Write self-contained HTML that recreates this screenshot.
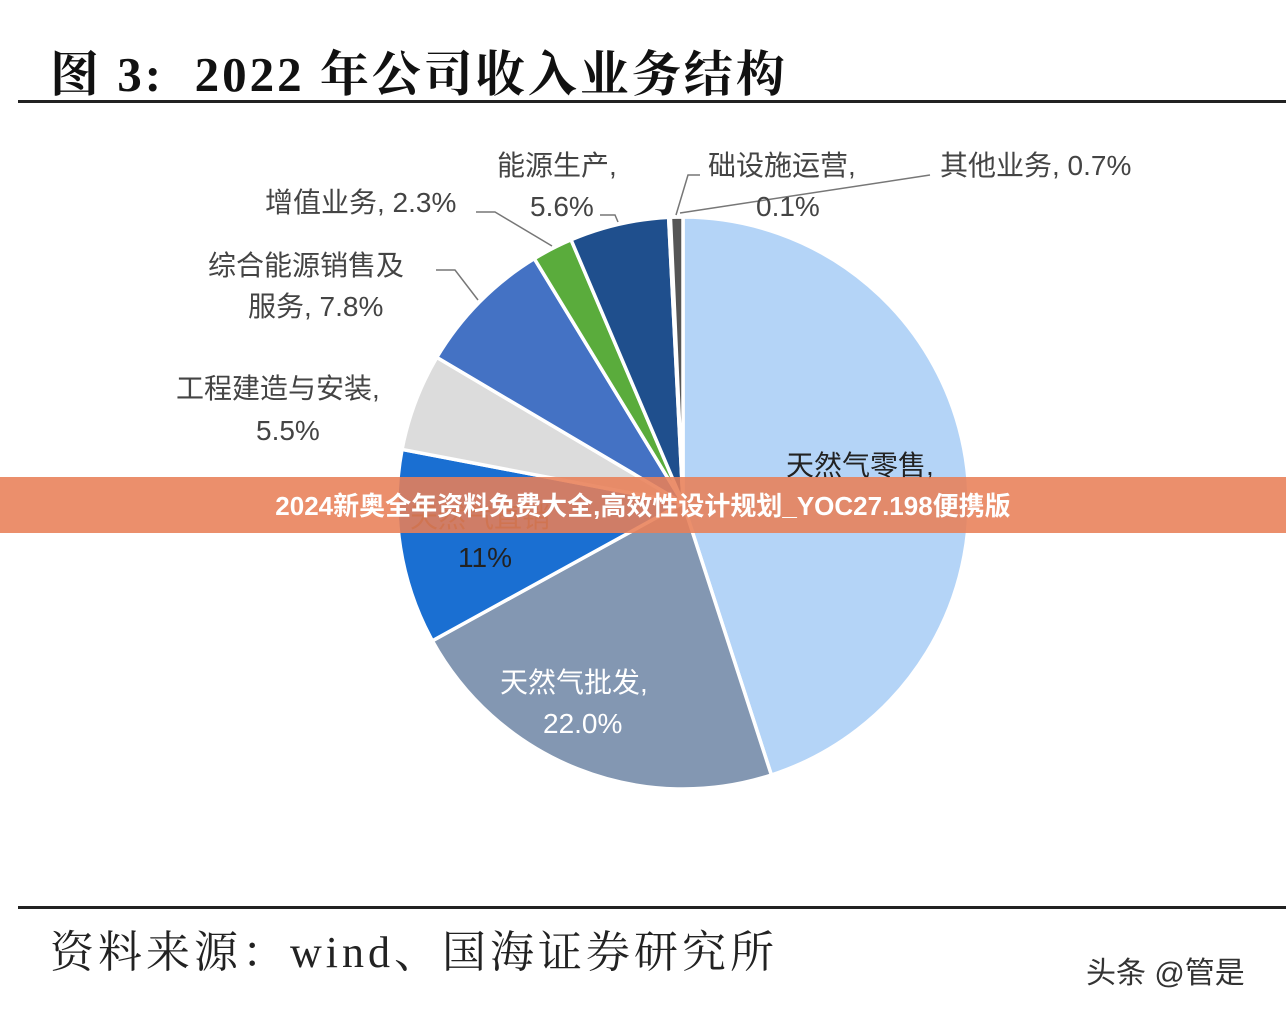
<!DOCTYPE html>
<html><head><meta charset="utf-8"><style>
html,body{margin:0;padding:0;background:#fff;}
body{width:1286px;height:1010px;position:relative;overflow:hidden;font-family:"Liberation Sans","Noto Sans CJK SC",sans-serif;}
.t{position:absolute;white-space:nowrap;}
</style></head><body>
<div class="t" style="left:50px;top:36px;font-family:'Liberation Serif','Noto Serif CJK SC',serif;font-weight:bold;font-size:49px;letter-spacing:3px;color:#111;">图 3:&nbsp; 2022 年公司收入业务结构</div>
<div style="position:absolute;left:18px;top:100px;width:1268px;height:3px;background:#222"></div>
<div style="position:absolute;left:18px;top:906px;width:1268px;height:3px;background:#222"></div>
<div class="t" style="left:50px;top:916px;font-family:'Liberation Serif','Noto Serif CJK SC',serif;font-size:44px;letter-spacing:4px;color:#222;">资料来源：wind、国海证券研究所</div>
<div class="t" style="left:1086px;top:948px;font-size:30px;color:#333;">头条 @管是</div>
<svg id="s" width="1286" height="1010" style="position:absolute;left:0;top:0" font-family="Liberation Sans, Noto Sans CJK SC, sans-serif" font-size="28" fill="#444">
<g id="pie"></g>
<g stroke="#777" stroke-width="1.5" fill="none">
<polyline points="476,212 495,212 552,246"/>
<polyline points="436,270 455,270 478,300"/>
<polyline points="600,215 615,215 618,222"/>
<polyline points="700,175 688,175 676,215"/>
<polyline points="930,175 680,213"/>
</g>
<text x="497" y="175">能源生产,</text>
<text x="530" y="216">5.6%</text>
<text x="708" y="175">础设施运营,</text>
<text x="756" y="216">0.1%</text>
<text x="940" y="175">其他业务, 0.7%</text>
<text x="265" y="212">增值业务, 2.3%</text>
<text x="208" y="275">综合能源销售及</text>
<text x="248" y="316">服务, 7.8%</text>
<text x="176" y="398">工程建造与安装,</text>
<text x="256" y="440">5.5%</text>
<text x="786" y="475" fill="#222">天然气零售,</text>
<text x="410" y="527" fill="#222">天然气直销</text>
<text x="458" y="567" fill="#222">11%</text>
<text x="500" y="692" fill="#fff">天然气批发,</text>
<text x="543" y="733" fill="#fff">22.0%</text>
</svg>
<div style="position:absolute;left:0;top:477px;width:1286px;height:56px;background:rgba(232,128,88,0.88);"></div>
<div class="t" style="left:0;top:477px;width:1286px;height:56px;line-height:58px;text-align:center;color:#fff;font-weight:bold;font-size:26px;">2024新奥全年资料免费大全,高效性设计规划_YOC27.198便携版</div>
<script>
var cx=683,cy=503,r=286;
var d=[[45.0,"#b4d4f7"],[22.0,"#8397b2"],[11,"#1a6fd2"],[5.5,"#dcdcdc"],[7.8,"#4472c4"],[2.3,"#5aac3c"],[5.6,"#1f4f8d"],[0.1,"#9aa"],[0.7,"#555"]];
var a=0,h="";
function p(t){t=t*Math.PI/180;return [cx+r*Math.sin(t),cy-r*Math.cos(t)];}
d.forEach(function(s){var b=a+s[0]*3.6;var p1=p(a),p2=p(b);
h+='<path d="M'+cx+','+cy+' L'+p1[0]+','+p1[1]+' A'+r+','+r+' 0 '+(b-a>180?1:0)+' 1 '+p2[0]+','+p2[1]+' Z" fill="'+s[1]+'" stroke="#fff" stroke-width="3.5"/>';a=b;});
document.getElementById("pie").innerHTML=h;
</script>
</body></html>
